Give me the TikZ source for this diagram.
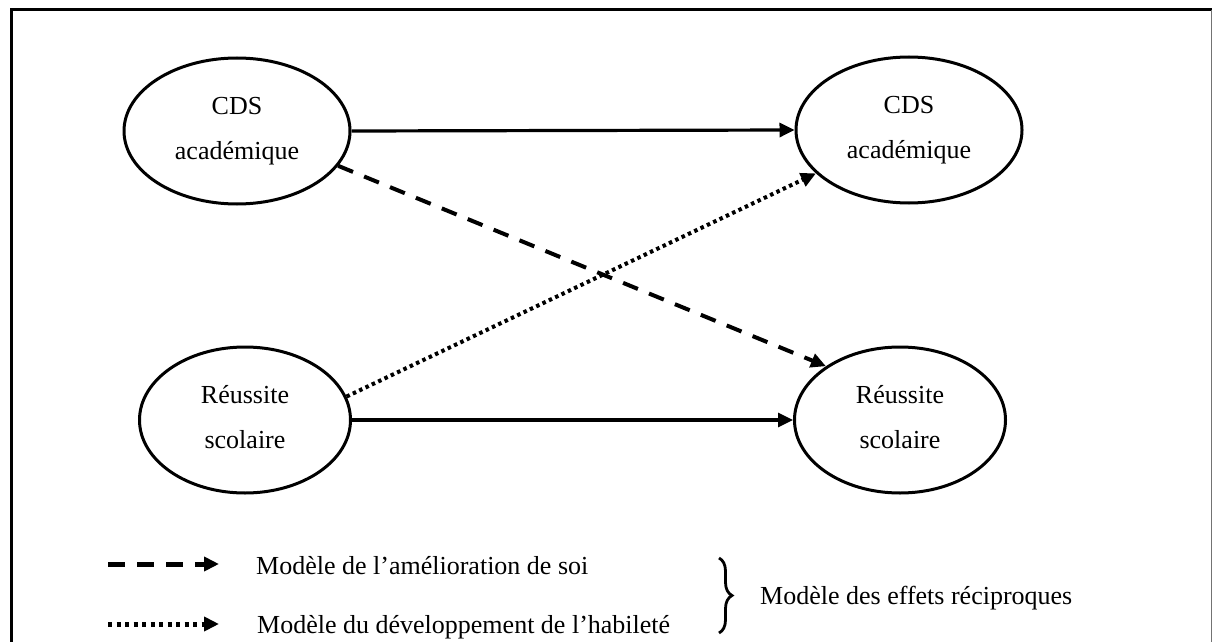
\documentclass[tikz,border=0pt]{standalone}
\usepackage{fontspec}
\setmainfont{Liberation Serif}
\usetikzlibrary{shapes.geometric,arrows.meta,decorations.pathreplacing}
\begin{document}
\begin{tikzpicture}[x=1pt,y=-1pt,
  ell/.style={ellipse,draw,line width=3pt,inner sep=0pt,minimum height=146pt,
    align=center,font=\fontsize{26}{45}\selectfont},
  wide/.style={minimum width=226pt},
  narrow/.style={minimum width=211pt},
  conn/.style={line width=3.2pt,-{Triangle[length=15pt,width=14pt]}},
  dashedconn/.style={conn,line width=4pt,dash pattern=on 16pt off 12pt},
  dottedconn/.style={conn,line width=4pt,dash pattern=on 3.5pt off 3.5pt},
  legtext/.style={anchor=base west,inner sep=0pt,font=\fontsize{26}{30}\selectfont}
]
\useasboundingbox (0,0) rectangle (1213,642);
% frame
\draw[line width=3pt] (11,642) -- (11,10) -- (1212,10);
\draw[line width=1.2pt,black!55] (1211.5,10) -- (1211.5,642);

% ellipses
\node[ell,wide]   (tl) at (237,131) {CDS\\académique};
\node[ell,wide]   (tr) at (909,130) {CDS\\académique};
\node[ell,narrow] (bl) at (245,420) {Réussite\\scolaire\vphantom{q}};
\node[ell,narrow] (br) at (900,420) {Réussite\\scolaire\vphantom{q}};

% connectors
\draw[conn] (tl.east) -- (tr.west);
\draw[conn] (bl.east) -- (br.west);
\draw[dashedconn] (tl.-19) -- (br.144);
\draw[dottedconn] (bl.13) -- (tr.205);

% legend
\coordinate (l1a) at (108,564);
\coordinate (l1b) at (219,564);
\coordinate (l2a) at (108,624);
\coordinate (l2b) at (219,624);
\draw[line width=5pt,dash pattern=on 17pt off 12pt,-{Triangle[length=15pt,width=14pt]}] (l1a) -- (l1b);
\draw[line width=5pt,dash pattern=on 4pt off 4.5pt,-{Triangle[length=15pt,width=14pt]}] (l2a) -- (l2b);
\node[legtext] (t1) at (256,574) {Modèle de l’amélioration de soi};
\node[legtext] (t2) at (257,633) {Modèle du développement de l’habileté};
\coordinate (b1) at (719,558);
\coordinate (b2) at (719,633);
\draw[decorate,decoration={brace,amplitude=13pt},line width=2.8pt] (b1) -- (b2);
\node[legtext] (t3) at (760,604) {Modèle des effets réciproques};
\end{tikzpicture}
\end{document}
